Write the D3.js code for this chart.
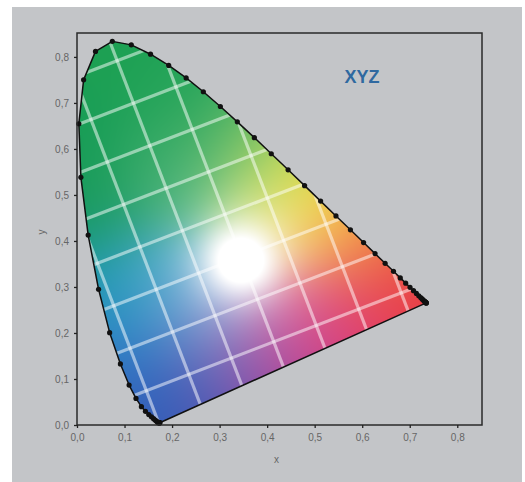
<!DOCTYPE html>
<html>
<head>
<meta charset="utf-8">
<script src="https://cdn.jsdelivr.net/npm/d3@7"></script>
<style>
  body { margin: 0; background: #fff; }
</style>
</head>
<body>
<div class="chart"></div>
<script>
// Spectral locus, CIE 1931 2 deg observer, 5 nm steps
var wavelengths = d3.range(380, 701, 5);
var locusX = [0.1741, 0.1740, 0.1738, 0.1736, 0.1733, 0.1730, 0.1726, 0.1721,
  0.1714, 0.1703, 0.1689, 0.1669, 0.1644, 0.1611, 0.1566, 0.1510,
  0.1440, 0.1355, 0.1241, 0.1096, 0.0913, 0.0687, 0.0454, 0.0235,
  0.0082, 0.0039, 0.0139, 0.0389, 0.0743, 0.1142, 0.1547, 0.1929,
  0.2296, 0.2658, 0.3016, 0.3373, 0.3731, 0.4087, 0.4441, 0.4788,
  0.5125, 0.5448, 0.5752, 0.6029, 0.6270, 0.6482, 0.6658, 0.6801,
  0.6915, 0.7006, 0.7079, 0.7140, 0.7190, 0.7230, 0.7260, 0.7283,
  0.7300, 0.7311, 0.7320, 0.7327, 0.7334, 0.7340, 0.7344, 0.7346, 0.7347];
var locusY = [0.0050, 0.0050, 0.0049, 0.0049, 0.0048, 0.0048, 0.0048, 0.0048,
  0.0051, 0.0058, 0.0069, 0.0086, 0.0109, 0.0138, 0.0177, 0.0227,
  0.0297, 0.0399, 0.0578, 0.0868, 0.1327, 0.2007, 0.2950, 0.4127,
  0.5384, 0.6548, 0.7502, 0.8120, 0.8338, 0.8262, 0.8059, 0.7816,
  0.7543, 0.7243, 0.6923, 0.6589, 0.6245, 0.5896, 0.5547, 0.5202,
  0.4866, 0.4544, 0.4242, 0.3965, 0.3725, 0.3514, 0.3340, 0.3197,
  0.3083, 0.2993, 0.2920, 0.2859, 0.2809, 0.2770, 0.2740, 0.2717,
  0.2700, 0.2689, 0.2680, 0.2673, 0.2666, 0.2660, 0.2656, 0.2654, 0.2653];
var tickValues = [0, 0.1, 0.2, 0.3, 0.4, 0.5, 0.6, 0.7, 0.8];
var titleText = "XYZ";
var xLabel = "x";
var yLabel = "y";

// colour field: anchor chromaticities and the colour painted around them
var anchorX = [0.07, 0.01, 0.03, 0.20, 0.33, 0.18, 0.42, 0.49, 0.56, 0.62, 0.71, 0.58, 0.50, 0.42, 0.32, 0.22, 0.15, 0.10, 0.06, 0.15, 0.25];
var anchorY = [0.82, 0.62, 0.45, 0.72, 0.62, 0.55, 0.56, 0.50, 0.43, 0.36, 0.28, 0.24, 0.20, 0.15, 0.10, 0.04, 0.08, 0.18, 0.30, 0.30, 0.20];
var anchorColor = ["#1ca052", "#169c55", "#17995c", "#24a459", "#4db268", "#3cac6c", "#b8d65a", "#f7ea36",
  "#f4a83f", "#ee6a48", "#e8363f", "#e33a6a", "#d44088", "#a9479d", "#7a50aa", "#3a57b3",
  "#2a63bd", "#2a80c8", "#1a98b5", "#3aa1c9", "#6a88ca"];
var whitePoint = [0.345, 0.358];

var svgWidth = 525;
var svgHeight = 482;

var svg = d3.select(".chart")
  .append("svg")
  .attr("width", svgWidth)
  .attr("height", svgHeight)
  .style("font-family", "'Liberation Sans', Arial, sans-serif");

// grey panel
svg.append("rect")
  .attr("x", 12).attr("y", 7)
  .attr("width", 510).attr("height", 475)
  .attr("fill", "#c3c5c8");

var xScale = d3.scaleLinear().domain([0, 0.852]).range([77, 482]);
var yScale = d3.scaleLinear().domain([0, 0.852]).range([425, 33]);

var x0 = xScale.range()[0], x1 = xScale.range()[1];
var yTop = yScale.range()[1], yBot = yScale.range()[0];

var locus = wavelengths.map(function(w, i) { return { w: w, x: locusX[i], y: locusY[i] }; });

var locusLine = d3.line()
  .x(d => xScale(d.x))
  .y(d => yScale(d.y))
  .curve(d3.curveLinearClosed);

svg.append("clipPath").attr("id", "locusClip")
  .append("path")
  .attr("d", locusLine(locus));

// Paint the colour field on a canvas
var cw = Math.round(x1 - x0), ch = Math.round(yBot - yTop);
var canvas = document.createElement("canvas");
canvas.width = cw; canvas.height = ch;
var ctx = canvas.getContext("2d");
var img = ctx.createImageData(cw, ch);
var anchors = anchorColor.map(function(c, i) {
  var rgb = d3.rgb(c);
  return { x: anchorX[i], y: anchorY[i], r: rgb.r, g: rgb.g, b: rgb.b };
});
var sig = 0.085;
for (var j = 0; j < ch; j++) {
  for (var i = 0; i < cw; i++) {
    var cx = xScale.invert(x0 + i + 0.5);
    var cy = yScale.invert(yTop + j + 0.5);
    var sw = 0, r = 0, g = 0, b = 0;
    anchors.forEach(function(a) {
      var d2 = (cx - a.x) * (cx - a.x) + (cy - a.y) * (cy - a.y);
      var w = Math.exp(-d2 / (2 * sig * sig));
      sw += w; r += w * a.r; g += w * a.g; b += w * a.b;
    });
    r /= sw; g /= sw; b /= sw;
    var dx = cx - whitePoint[0], dy = cy - whitePoint[1];
    var dw = dx * dx + dy * dy;
    var m = 0.8 * Math.exp(-dw / (2 * 0.06 * 0.06)) + 0.45 * Math.exp(-dw / (2 * 0.12 * 0.12));
    m = Math.min(1, m);
    r = r + (255 - r) * m; g = g + (255 - g) * m; b = b + (255 - b) * m;
    var k = (j * cw + i) * 4;
    img.data[k] = r; img.data[k + 1] = g; img.data[k + 2] = b; img.data[k + 3] = 255;
  }
}
ctx.putImageData(img, 0, 0);

var field = svg.append("g").attr("clip-path", "url(#locusClip)");
field.append("image")
  .attr("x", x0).attr("y", yTop)
  .attr("width", cw).attr("height", ch)
  .attr("href", canvas.toDataURL());

// rotated white grid over the field
var theta = 21 * Math.PI / 180;
var step = 45.5;
var ct = Math.cos(theta), st = Math.sin(theta);
var gridLines = [];
d3.range(-6, 16).forEach(function(n) {
  var c = 87.6 + (n - 1) * step;
  gridLines.push([[c * ct - 900 * st, -c * st - 900 * ct], [c * ct + 900 * st, -c * st + 900 * ct]]);
  var c2 = 98.7 + (n - 1) * step;
  gridLines.push([[c2 * st - 900 * ct, c2 * ct + 900 * st], [c2 * st + 900 * ct, c2 * ct - 900 * st]]);
});
field.selectAll("line.grid")
  .data(gridLines)
  .enter()
  .append("line")
  .attr("class", "grid")
  .attr("x1", d => d[0][0]).attr("y1", d => d[0][1])
  .attr("x2", d => d[1][0]).attr("y2", d => d[1][1])
  .attr("stroke", "#fff")
  .attr("stroke-opacity", 0.5)
  .attr("stroke-width", 3.2);

// locus outline and wavelength dots
svg.append("path")
  .attr("d", locusLine(locus))
  .attr("fill", "none")
  .attr("stroke", "#111")
  .attr("stroke-width", 1.5)
  .attr("stroke-linejoin", "round");

svg.selectAll("circle.dot")
  .data(locus)
  .enter()
  .append("circle")
  .attr("class", "dot")
  .attr("cx", d => xScale(d.x))
  .attr("cy", d => yScale(d.y))
  .attr("r", 2.6)
  .attr("fill", "#111");

// frame
svg.append("rect")
  .attr("x", x0).attr("y", yTop)
  .attr("width", x1 - x0).attr("height", yBot - yTop)
  .attr("fill", "none")
  .attr("stroke", "#2a2a2a")
  .attr("stroke-width", 1.5);

var fmt = function(v) { return d3.format(".1f")(v).replace(".", ","); };

var bottomAxis = d3.axisBottom(xScale).tickValues(tickValues).tickFormat(fmt).tickSize(3).tickPadding(6);
var leftAxis = d3.axisLeft(yScale).tickValues(tickValues).tickFormat(fmt).tickSize(3).tickPadding(5);

var gx = svg.append("g").attr("transform", `translate(0, ${yBot})`).call(bottomAxis);
var gy = svg.append("g").attr("transform", `translate(${x0}, 0)`).call(leftAxis);
[gx, gy].forEach(function(g) {
  g.select(".domain").remove();
  g.selectAll(".tick line").attr("stroke", "#222").attr("stroke-width", 1.3);
  g.selectAll(".tick text").attr("fill", "#666").style("font-size", "10px")
    .style("font-family", "'Liberation Sans', Arial, sans-serif");
});

svg.append("text")
  .attr("x", (x0 + x1) / 2 - 3)
  .attr("y", 463)
  .attr("text-anchor", "middle")
  .attr("fill", "#666")
  .style("font-size", "10px")
  .text(xLabel);

svg.append("text")
  .attr("transform", "translate(45, 232) rotate(-90)")
  .attr("text-anchor", "middle")
  .attr("fill", "#666")
  .style("font-size", "10px")
  .text(yLabel);

svg.append("text")
  .attr("x", 362)
  .attr("y", 83)
  .attr("text-anchor", "middle")
  .attr("fill", "#2f69a0")
  .style("font-size", "18px")
  .style("font-weight", "bold")
  .text(titleText);
</script>
</body>
</html>
